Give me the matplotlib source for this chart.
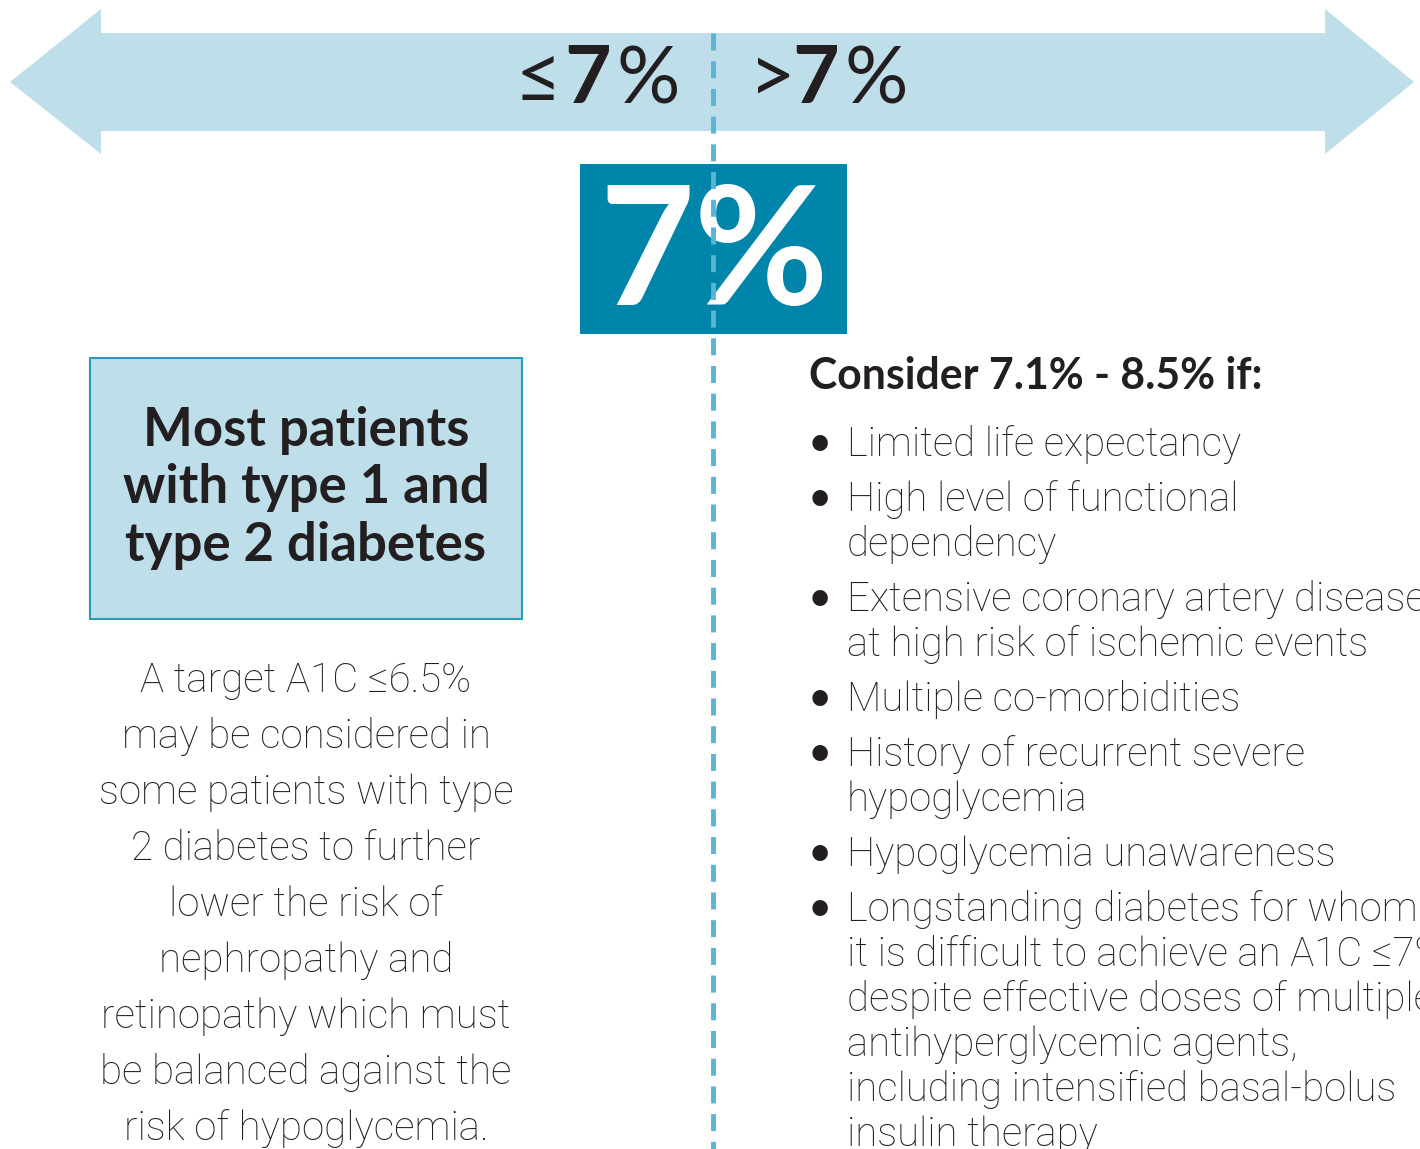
import matplotlib.pyplot as plt
from matplotlib.patches import Polygon, Rectangle

# colours
light_blue = '#BEDEEA'
teal = '#0085AA'
dash_blue = '#5AB4D6'
ink = '#231F20'

plt.rcParams['font.family'] = ['Lato', 'Open Sans', 'DejaVu Sans']
body_font = ['Roboto', 'Lato', 'DejaVu Sans']

# texts
left_sign = '≤'
right_sign = '>'
threshold = '7'
box_label = '7%'
box_lines = ['Most patients', 'with type 1 and', 'type 2 diabetes']
note_lines = ['A target A1C ≤6.5%', 'may be considered in', 'some patients with type',
              '2 diabetes to further', 'lower the risk of', 'nephropathy and',
              'retinopathy which must', 'be balanced against the', 'risk of hypoglycemia.']
header = 'Consider 7.1% - 8.5% if:'
items = [['Limited life expectancy'],
         ['High level of functional', 'dependency'],
         ['Extensive coronary artery disease', 'at high risk of ischemic events'],
         ['Multiple co-morbidities'],
         ['History of recurrent severe', 'hypoglycemia'],
         ['Hypoglycemia unawareness'],
         ['Longstanding diabetes for whom', 'it is difficult to achieve an A1C ≤7%',
          'despite effective doses of multiple', 'antihyperglycemic agents,',
          'including intensified basal-bolus', 'insulin therapy']]

fig = plt.figure(figsize=(14.2, 11.49), dpi=100)
ax = fig.add_axes([0, 0, 1, 1])
ax.set_xlim(0, 1420)
ax.set_ylim(1149, 0)
ax.axis('off')

# double arrow
arrow = [(101, 33), (1325, 33), (1325, 9), (1414, 82), (1325, 154), (1325, 131),
         (101, 131), (101, 154), (10, 82), (101, 9)]
ax.add_patch(Polygon(arrow, closed=True, fc=light_blue, ec='none', zorder=1))

# <=7% and >7%
ax.text(561, 103, left_sign, fontsize=58, ha='right', va='baseline', color=ink)
ax.text(564, 103, threshold, fontsize=58, ha='left', va='baseline', color=ink, fontweight='bold')
ax.text(616, 103, '%', fontsize=57, ha='left', va='baseline', color=ink)
ax.text(749, 103, right_sign, fontsize=58, ha='left', va='baseline', color=ink)
ax.text(792, 103, threshold, fontsize=58, ha='left', va='baseline', color=ink, fontweight='bold')
ax.text(844, 103, '%', fontsize=57, ha='left', va='baseline', color=ink)

# teal box
ax.add_patch(Rectangle((580, 164), 267, 170, fc=teal, ec='none', zorder=2))
ax.text(714, 305, box_label, fontsize=118, ha='center', va='baseline', color='white',
        fontweight='bold', zorder=3)

# dashed divider
ax.plot([713, 713], [33, 1149], color=dash_blue, lw=3.5, ls=(0, (3.5, 2.2)), zorder=4)

# left box
ax.add_patch(Rectangle((90, 358), 432, 261, fc=light_blue, ec='#2B9BC0', lw=1.5, zorder=2))
for i, line in enumerate(box_lines):
    ax.text(306, 446 + i * 57.5, line, fontsize=38, ha='center', va='baseline', color=ink,
            fontweight='bold', zorder=3)

for i, line in enumerate(note_lines):
    ax.text(306, 692 + i * 56, line, fontsize=29, ha='center', va='baseline', color=ink,
            family=body_font, fontweight='light')

# right column
ax.text(809, 389, header, fontsize=30.8, ha='left', va='baseline', color=ink, fontweight='bold')
y = 456
for item in items:
    ax.text(808, y, '•', fontsize=30, ha='left', va='baseline', color=ink)
    for line in item:
        ax.text(847, y, line, fontsize=28.9, ha='left', va='baseline', color=ink,
                family=body_font, fontweight='light', clip_on=True)
        y += 45
    y += 10

fig.savefig('out.png', dpi=100)
